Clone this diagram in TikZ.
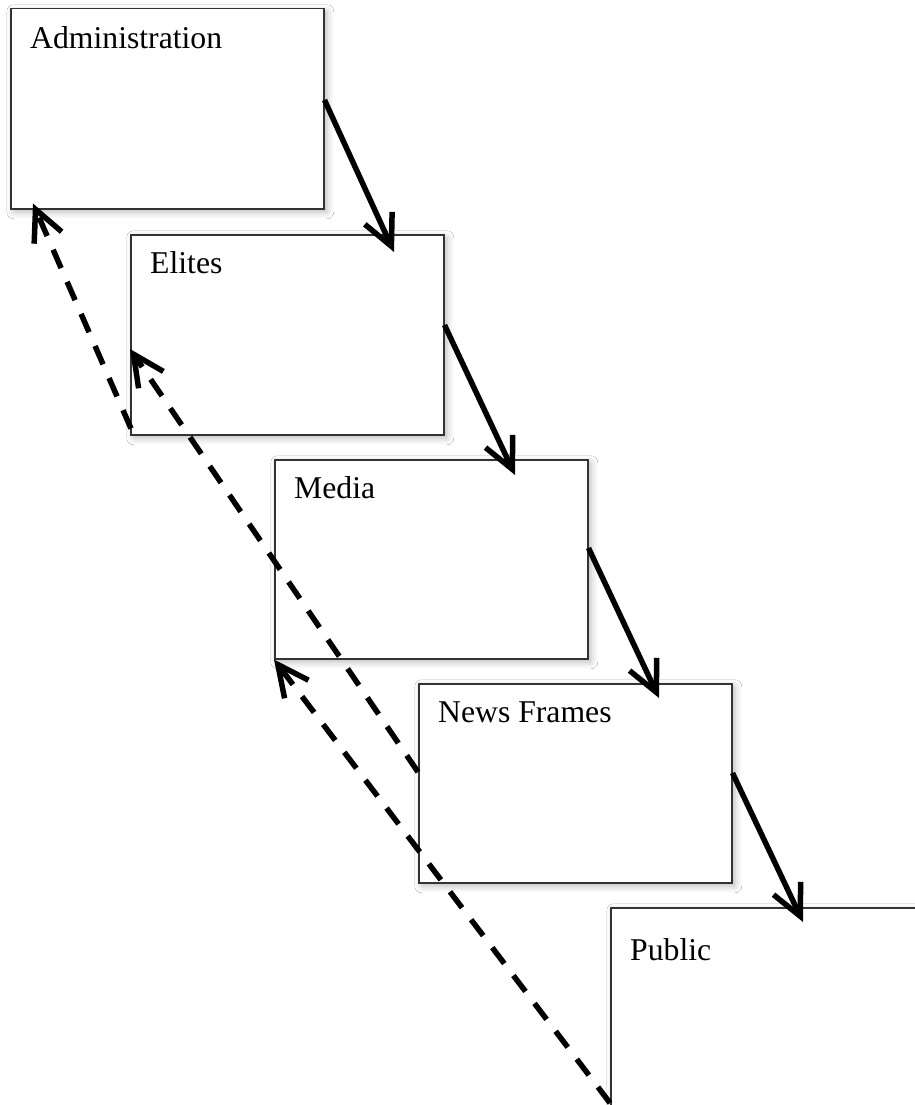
\documentclass[tikz,border=0pt]{standalone}
\usepackage{fontspec}
\setmainfont{Liberation Serif}
\usetikzlibrary{arrows.meta,shadows.blur,calc}
\begin{document}
\begin{tikzpicture}[x=1pt,y=-1pt,
  stage/.style={draw=black!80, line width=1.5pt, fill=white, rectangle,
    anchor=north west, inner sep=0pt, minimum width=313pt, minimum height=200pt,
    blur shadow={shadow xshift=3pt, shadow yshift=-3pt, shadow blur radius=7pt, shadow opacity=28}},
  tag/.style={anchor=base west, inner sep=0pt, font=\fontsize{31.7}{38}\selectfont},
  flow/.style={line width=5.5pt, -{Straight Barb[length=31pt,width=30pt]}},
  feedback/.style={flow, dash pattern=on 20pt off 15pt}
]
\clip (0,0) rectangle (915,1105);
\fill[white] (0,0) rectangle (915,1105);

% the stages of the cascade
\node[stage] (adm)  at (10,8)   {};
\node[stage] (eli)  at (130,234) {};
\node[stage, minimum height=199pt] (med) at (274,459) {};
\node[stage, minimum height=199pt] (news) at (418,683) {};
\node[stage, minimum width=400pt, minimum height=300pt] (pub) at (610,907) {};

\node[tag] (admT)  at ($(adm.north west)+(20,41)$)  {Administration};
\node[tag] (eliT)  at ($(eli.north west)+(20,39)$)  {Elites};
\node[tag] (medT)  at ($(med.north west)+(20,39)$)  {Media};
\node[tag] (newsT) at ($(news.north west)+(20,39)$) {News Frames};
\node[tag] (pubT)  at ($(pub.north west)+(20,53)$)  {Public};

% downward flow
\coordinate (f1s) at ($(adm.north east)+(0,92)$);
\coordinate (f1e) at ($(eli.north west)+(264,18)$);
\coordinate (f2s) at ($(eli.north east)+(0,91)$);
\coordinate (f2e) at ($(med.north west)+(241,16)$);
\coordinate (f3s) at ($(med.north east)+(0,89)$);
\coordinate (f3e) at ($(news.north west)+(241,15)$);
\coordinate (f4s) at ($(news.north east)+(0,90)$);
\coordinate (f4e) at ($(pub.north west)+(193,15)$);
\draw[flow] (f1s) -- (f1e);
\draw[flow] (f2s) -- (f2e);
\draw[flow] (f3s) -- (f3e);
\draw[flow] (f4s) -- (f4e);

% feedback paths
\coordinate (b1s) at ($(eli.south west)+(1,-7)$);
\coordinate (b1e) at ($(adm.south west)+(23,-6)$);
\coordinate (b2s) at ($(news.north west)+(0,89)$);
\coordinate (b2e) at ($(eli.north west)+(0,115)$);
\coordinate (b3s) at (610,1103);
\coordinate (b3e) at (med.south west);
\draw[feedback] (b1s) -- (b1e);
\draw[feedback] (b2s) -- (b2e);
\draw[feedback] (b3s) -- (b3e);
\end{tikzpicture}
\end{document}
